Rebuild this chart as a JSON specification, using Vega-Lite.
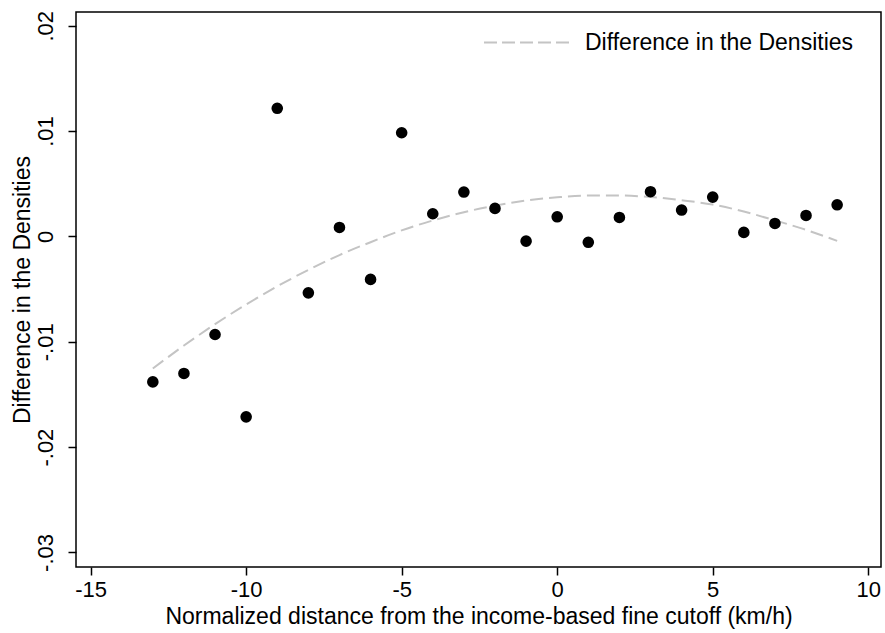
{
  "$schema": "https://vega.github.io/schema/vega-lite/v6.json",
  "width": 805,
  "height": 555,
  "autosize": {"type": "none"},
  "padding": {"left": 76, "top": 12, "right": 4, "bottom": 66},
  "background": "white",
  "datasets": {
    "bins": [
      {"dist": -13, "diff": -0.01381},
      {"dist": -12, "diff": -0.01301},
      {"dist": -11, "diff": -0.00931},
      {"dist": -10, "diff": -0.01713},
      {"dist": -9, "diff": 0.01216},
      {"dist": -8, "diff": -0.00536},
      {"dist": -7, "diff": 0.00085},
      {"dist": -6, "diff": -0.00408},
      {"dist": -5, "diff": 0.00984},
      {"dist": -4, "diff": 0.00215},
      {"dist": -3, "diff": 0.00421},
      {"dist": -2, "diff": 0.00266},
      {"dist": -1, "diff": -0.00045},
      {"dist": 0, "diff": 0.00186},
      {"dist": 1, "diff": -0.00056},
      {"dist": 2, "diff": 0.0018},
      {"dist": 3, "diff": 0.00424},
      {"dist": 4, "diff": 0.0025},
      {"dist": 5, "diff": 0.00373},
      {"dist": 6, "diff": 0.00038},
      {"dist": 7, "diff": 0.00123},
      {"dist": 8, "diff": 0.00199},
      {"dist": 9, "diff": 0.003}
    ],
    "fit": [
      {"dist": -13, "fitted": -0.01254},
      {"dist": -12, "fitted": -0.01036},
      {"dist": -11, "fitted": -0.00833},
      {"dist": -10, "fitted": -0.00646},
      {"dist": -9, "fitted": -0.00474},
      {"dist": -8, "fitted": -0.00318},
      {"dist": -7, "fitted": -0.00177},
      {"dist": -6, "fitted": -0.00055},
      {"dist": -5, "fitted": 0.00057},
      {"dist": -4, "fitted": 0.00151},
      {"dist": -3, "fitted": 0.0023},
      {"dist": -2, "fitted": 0.00292},
      {"dist": -1, "fitted": 0.0034},
      {"dist": 0, "fitted": 0.00371},
      {"dist": 1, "fitted": 0.00388},
      {"dist": 2, "fitted": 0.00388},
      {"dist": 3, "fitted": 0.00374},
      {"dist": 4, "fitted": 0.00343},
      {"dist": 5, "fitted": 0.00302},
      {"dist": 6, "fitted": 0.00236},
      {"dist": 7, "fitted": 0.00152},
      {"dist": 8, "fitted": 0.00062},
      {"dist": 9, "fitted": -0.00042}
    ]
  },
  "encoding": {
    "x": {
      "type": "quantitative",
      "scale": {"domain": [-15.47, 10.41], "nice": false, "zero": false},
      "axis": {
        "title": "Normalized distance from the income-based fine cutoff (km/h)",
        "values": [-15, -10, -5, 0, 5, 10],
        "labelExpr": "(datum.value < 0 ? '-' : '') + abs(datum.value)",
        "grid": false,
        "domain": false,
        "tickSize": 8,
        "labelPadding": 4,
        "titlePadding": 5
      }
    },
    "y": {
      "type": "quantitative",
      "scale": {"domain": [-0.03138, 0.0213], "nice": false, "zero": false},
      "axis": {
        "title": "Difference in the Densities",
        "values": [-0.03, -0.02, -0.01, 0, 0.01, 0.02],
        "labelExpr": "datum.value == 0 ? '0' : (datum.value < 0 ? '-' : '') + replace(format(abs(datum.value), '.2f'), '0.', '.')",
        "labelAngle": -90,
        "grid": false,
        "domain": false,
        "tickSize": 8,
        "labelPadding": 11,
        "titlePadding": 0
      }
    }
  },
  "layer": [
    {
      "mark": {"type": "rule", "color": "black", "strokeWidth": 2, "strokeDash": [2.5, 4.5]},
      "encoding": {"y": {"datum": 0}}
    },
    {
      "mark": {"type": "rule", "color": "black", "strokeWidth": 2, "strokeDash": [2.5, 4.5]},
      "encoding": {"x": {"datum": 0}}
    },
    {
      "data": {"name": "fit"},
      "mark": {"type": "line", "strokeWidth": 2, "strokeDash": [13, 6], "interpolate": "monotone"},
      "encoding": {
        "x": {"field": "dist"},
        "y": {"field": "fitted"},
        "color": {
          "datum": "Difference in the Densities",
          "scale": {"range": ["#c4c4c4"]},
          "legend": {
            "title": null,
            "orient": "none",
            "legendX": 407,
            "legendY": -14,
            "symbolType": "stroke",
            "symbolSize": 7569,
            "symbolStrokeWidth": 2,
            "symbolDash": [13, 5],
            "labelFontSize": 23,
            "labelOffset": 13,
            "labelLimit": 0,
            "labelColor": "black"
          }
        }
      }
    },
    {
      "data": {"name": "bins"},
      "mark": {"type": "circle", "color": "black", "opacity": 1, "size": 135},
      "encoding": {
        "x": {"field": "dist"},
        "y": {"field": "diff"}
      }
    }
  ],
  "config": {
    "view": {"stroke": "black", "strokeWidth": 1.5},
    "font": "Liberation Sans",
    "axis": {
      "labelFont": "Liberation Sans",
      "titleFont": "Liberation Sans",
      "labelFontSize": 22,
      "titleFontSize": 23,
      "titleFontWeight": "normal",
      "labelColor": "black",
      "titleColor": "black",
      "tickColor": "black",
      "tickWidth": 1.5
    },
    "legend": {"labelFont": "Liberation Sans"}
  }
}
